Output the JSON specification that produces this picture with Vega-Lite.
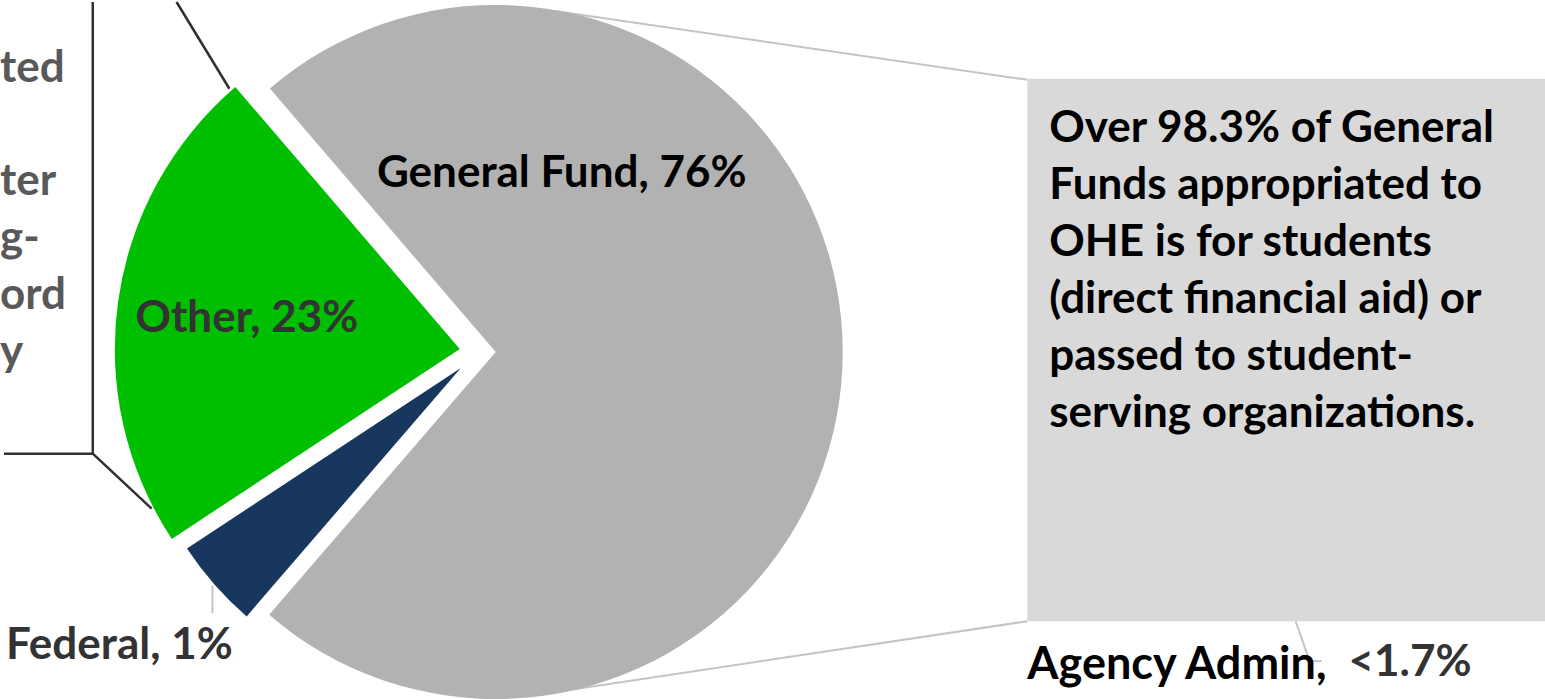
{
  "$schema": "https://vega.github.io/schema/vega-lite/v6.json",
  "width": 1545,
  "height": 699,
  "padding": 0,
  "autosize": {"type": "fit", "contains": "padding"},
  "background": "white",
  "config": {"view": {"stroke": null}, "text": {"font": "Lato", "fontWeight": "bold", "fontSize": 44}},
  "datasets": {
    "slices": [
      {"source": "General Fund", "share": 72.6, "rank": 1, "label": "General Fund, 76%"},
      {"source": "Federal", "share": 4.4, "rank": 2, "label": "Federal, 1%"},
      {"source": "Other", "share": 23.0, "rank": 3, "label": "Other, 23%"}
    ]
  },
  "layer": [
    {
      "data": {"values": [{}]},
      "mark": {"type": "rule", "color": "#c4c4c4", "strokeWidth": 2},
      "encoding": {
        "x": {"datum": 552, "type": "quantitative", "scale": {"domain": [0, 1545], "nice": false, "zero": false}, "axis": null},
        "y": {"datum": 9, "type": "quantitative", "scale": {"domain": [0, 699], "nice": false, "zero": false, "reverse": true}, "axis": null},
        "x2": {"datum": 1026},
        "y2": {"datum": 78}
      }
    },
    {
      "data": {"values": [{}]},
      "mark": {"type": "rule", "color": "#c4c4c4", "strokeWidth": 2},
      "encoding": {
        "x": {"datum": 560, "type": "quantitative", "scale": {"domain": [0, 1545], "nice": false, "zero": false}, "axis": null},
        "y": {"datum": 691, "type": "quantitative", "scale": {"domain": [0, 699], "nice": false, "zero": false, "reverse": true}, "axis": null},
        "x2": {"datum": 1026},
        "y2": {"datum": 621}
      }
    },
    {
      "data": {"values": [{}]},
      "mark": {"type": "rule", "color": "#303030", "strokeWidth": 2.5},
      "encoding": {
        "x": {"datum": 173, "type": "quantitative", "scale": {"domain": [0, 1545], "nice": false, "zero": false}, "axis": null},
        "y": {"datum": 0, "type": "quantitative", "scale": {"domain": [0, 699], "nice": false, "zero": false, "reverse": true}, "axis": null},
        "x2": {"datum": 226},
        "y2": {"datum": 87}
      }
    },
    {
      "data": {"values": [{}]},
      "mark": {"type": "rule", "color": "#303030", "strokeWidth": 2.5},
      "encoding": {
        "x": {"datum": 89, "type": "quantitative", "scale": {"domain": [0, 1545], "nice": false, "zero": false}, "axis": null},
        "y": {"datum": 453, "type": "quantitative", "scale": {"domain": [0, 699], "nice": false, "zero": false, "reverse": true}, "axis": null},
        "x2": {"datum": 148},
        "y2": {"datum": 508}
      }
    },
    {
      "data": {"values": [{}]},
      "mark": {"type": "rule", "color": "#303030", "strokeWidth": 2.5},
      "encoding": {
        "x": {"datum": 89, "type": "quantitative", "scale": {"domain": [0, 1545], "nice": false, "zero": false}, "axis": null},
        "y": {"datum": 0, "type": "quantitative", "scale": {"domain": [0, 699], "nice": false, "zero": false, "reverse": true}, "axis": null},
        "x2": {"datum": 89},
        "y2": {"datum": 454}
      }
    },
    {
      "data": {"values": [{}]},
      "mark": {"type": "rule", "color": "#303030", "strokeWidth": 2.5},
      "encoding": {
        "x": {"datum": 0, "type": "quantitative", "scale": {"domain": [0, 1545], "nice": false, "zero": false}, "axis": null},
        "y": {"datum": 453, "type": "quantitative", "scale": {"domain": [0, 699], "nice": false, "zero": false, "reverse": true}, "axis": null},
        "x2": {"datum": 89},
        "y2": {"datum": 453}
      }
    },
    {
      "data": {"values": [{}]},
      "mark": {"type": "text", "align": "left", "baseline": "alphabetic", "dx": -4, "color": "#595959"},
      "encoding": {
        "x": {"datum": 0, "type": "quantitative", "scale": {"domain": [0, 1545], "nice": false, "zero": false}, "axis": null},
        "y": {"datum": 80, "type": "quantitative", "scale": {"domain": [0, 699], "nice": false, "zero": false, "reverse": true}, "axis": null},
        "text": {"value": "ted"}
      }
    },
    {
      "data": {"values": [{}]},
      "mark": {"type": "text", "align": "left", "baseline": "alphabetic", "dx": -4, "lineHeight": 57, "color": "#595959"},
      "encoding": {
        "x": {"datum": 0, "type": "quantitative", "scale": {"domain": [0, 1545], "nice": false, "zero": false}, "axis": null},
        "y": {"datum": 194, "type": "quantitative", "scale": {"domain": [0, 699], "nice": false, "zero": false, "reverse": true}, "axis": null},
        "text": {"value": ["ter", "g-", "ord", "y"]}
      }
    },
    {
      "data": {"values": [{}]},
      "mark": {"type": "rect", "color": "#d9d9d9"},
      "encoding": {
        "x": {"datum": 1026, "type": "quantitative", "scale": {"domain": [0, 1545], "nice": false, "zero": false}, "axis": null},
        "y": {"datum": 77, "type": "quantitative", "scale": {"domain": [0, 699], "nice": false, "zero": false, "reverse": true}, "axis": null},
        "x2": {"datum": 1545},
        "y2": {"datum": 621}
      }
    },
    {
      "data": {"values": [{}]},
      "mark": {"type": "text", "align": "left", "baseline": "alphabetic", "lineHeight": 57, "color": "#000000"},
      "encoding": {
        "x": {"datum": 1048, "type": "quantitative", "scale": {"domain": [0, 1545], "nice": false, "zero": false}, "axis": null},
        "y": {"datum": 140, "type": "quantitative", "scale": {"domain": [0, 699], "nice": false, "zero": false, "reverse": true}, "axis": null},
        "text": {"value": ["Over 98.3% of General", "Funds appropriated to", "OHE is for students", "(direct financial aid) or", "passed to student-", "serving organizations."]}
      }
    },
    {
      "data": {"values": [{}]},
      "mark": {"type": "rule", "color": "#c4c4c4", "strokeWidth": 2},
      "encoding": {
        "x": {"datum": 1295, "type": "quantitative", "scale": {"domain": [0, 1545], "nice": false, "zero": false}, "axis": null},
        "y": {"datum": 621, "type": "quantitative", "scale": {"domain": [0, 699], "nice": false, "zero": false, "reverse": true}, "axis": null},
        "x2": {"datum": 1309},
        "y2": {"datum": 661}
      }
    },
    {
      "data": {"values": [{}]},
      "mark": {"type": "rule", "color": "#c4c4c4", "strokeWidth": 2},
      "encoding": {
        "x": {"datum": 1309, "type": "quantitative", "scale": {"domain": [0, 1545], "nice": false, "zero": false}, "axis": null},
        "y": {"datum": 661, "type": "quantitative", "scale": {"domain": [0, 699], "nice": false, "zero": false, "reverse": true}, "axis": null},
        "x2": {"datum": 1321},
        "y2": {"datum": 661}
      }
    },
    {
      "data": {"values": [{}]},
      "mark": {"type": "text", "align": "left", "baseline": "alphabetic", "color": "#000000", "fontSize": 45},
      "encoding": {
        "x": {"datum": 1026, "type": "quantitative", "scale": {"domain": [0, 1545], "nice": false, "zero": false}, "axis": null},
        "y": {"datum": 679, "type": "quantitative", "scale": {"domain": [0, 699], "nice": false, "zero": false, "reverse": true}, "axis": null},
        "text": {"value": "Agency Admin,"}
      }
    },
    {
      "data": {"values": [{}]},
      "mark": {"type": "text", "align": "left", "baseline": "alphabetic", "color": "#333333"},
      "encoding": {
        "x": {"datum": 1348, "type": "quantitative", "scale": {"domain": [0, 1545], "nice": false, "zero": false}, "axis": null},
        "y": {"datum": 676, "type": "quantitative", "scale": {"domain": [0, 699], "nice": false, "zero": false, "reverse": true}, "axis": null},
        "text": {"value": "<1.7%"}
      }
    },
    {
      "data": {"values": [{}]},
      "mark": {"type": "rule", "color": "#c4c4c4", "strokeWidth": 2},
      "encoding": {
        "x": {"datum": 209, "type": "quantitative", "scale": {"domain": [0, 1545], "nice": false, "zero": false}, "axis": null},
        "y": {"datum": 585, "type": "quantitative", "scale": {"domain": [0, 699], "nice": false, "zero": false, "reverse": true}, "axis": null},
        "x2": {"datum": 209},
        "y2": {"datum": 613}
      }
    },
    {
      "data": {"name": "slices"},
      "transform": [
        {"stack": "share", "groupby": [], "sort": [{"field": "rank", "order": "ascending"}], "as": ["t0", "t1"]},
        {"filter": "datum.source === 'General Fund'"}
      ],
      "mark": {"type": "arc", "radius": 347, "color": "#b2b2b2"},
      "encoding": {
        "theta": {"field": "t0", "type": "quantitative", "scale": {"domain": [0, 100], "range": [5.5746, 11.8578]}},
        "theta2": {"field": "t1"},
        "x": {"datum": 493, "type": "quantitative", "scale": {"domain": [0, 1545], "nice": false, "zero": false}, "axis": null},
        "y": {"datum": 351, "type": "quantitative", "scale": {"domain": [0, 699], "nice": false, "zero": false, "reverse": true}, "axis": null}
      }
    },
    {
      "data": {"name": "slices"},
      "transform": [
        {"stack": "share", "groupby": [], "sort": [{"field": "rank", "order": "ascending"}], "as": ["t0", "t1"]},
        {"filter": "datum.source === 'Federal'"}
      ],
      "mark": {"type": "arc", "radius": 328, "color": "#17375e"},
      "encoding": {
        "theta": {"field": "t0", "type": "quantitative", "scale": {"domain": [0, 100], "range": [5.5746, 11.8578]}},
        "theta2": {"field": "t1"},
        "x": {"datum": 458, "type": "quantitative", "scale": {"domain": [0, 1545], "nice": false, "zero": false}, "axis": null},
        "y": {"datum": 367, "type": "quantitative", "scale": {"domain": [0, 699], "nice": false, "zero": false, "reverse": true}, "axis": null}
      }
    },
    {
      "data": {"name": "slices"},
      "transform": [
        {"stack": "share", "groupby": [], "sort": [{"field": "rank", "order": "ascending"}], "as": ["t0", "t1"]},
        {"filter": "datum.source === 'Other'"}
      ],
      "mark": {"type": "arc", "radius": 345, "color": "#00bf00"},
      "encoding": {
        "theta": {"field": "t0", "type": "quantitative", "scale": {"domain": [0, 100], "range": [5.5746, 11.8578]}},
        "theta2": {"field": "t1"},
        "x": {"datum": 457, "type": "quantitative", "scale": {"domain": [0, 1545], "nice": false, "zero": false}, "axis": null},
        "y": {"datum": 348, "type": "quantitative", "scale": {"domain": [0, 699], "nice": false, "zero": false, "reverse": true}, "axis": null}
      }
    },
    {
      "data": {"name": "slices"},
      "mark": {"type": "text", "radius": 66, "dy": -178, "align": "center", "baseline": "middle", "color": "#000000"},
      "encoding": {
        "theta": {"field": "share", "type": "quantitative", "stack": true, "scale": {"domain": [0, 100], "range": [5.5746, 11.8578]}},
        "order": {"field": "rank"},
        "detail": {"field": "source"},
        "text": {"condition": {"test": "datum.source === 'General Fund'", "field": "label"}, "value": ""},
        "x": {"datum": 493, "type": "quantitative", "scale": {"domain": [0, 1545], "nice": false, "zero": false}, "axis": null},
        "y": {"datum": 351, "type": "quantitative", "scale": {"domain": [0, 699], "nice": false, "zero": false, "reverse": true}, "axis": null}
      }
    },
    {
      "data": {"name": "slices"},
      "mark": {"type": "text", "radius": 436, "dx": -14, "dy": -10, "align": "center", "baseline": "middle", "color": "#333333"},
      "encoding": {
        "theta": {"field": "share", "type": "quantitative", "stack": true, "scale": {"domain": [0, 100], "range": [5.5746, 11.8578]}},
        "order": {"field": "rank"},
        "detail": {"field": "source"},
        "text": {"condition": {"test": "datum.source === 'Federal'", "field": "label"}, "value": ""},
        "x": {"datum": 458, "type": "quantitative", "scale": {"domain": [0, 1545], "nice": false, "zero": false}, "axis": null},
        "y": {"datum": 367, "type": "quantitative", "scale": {"domain": [0, 699], "nice": false, "zero": false, "reverse": true}, "axis": null}
      }
    },
    {
      "data": {"name": "slices"},
      "mark": {"type": "text", "radius": 215, "align": "center", "baseline": "middle", "color": "#333333"},
      "encoding": {
        "theta": {"field": "share", "type": "quantitative", "stack": true, "scale": {"domain": [0, 100], "range": [5.5746, 11.8578]}},
        "order": {"field": "rank"},
        "detail": {"field": "source"},
        "text": {"condition": {"test": "datum.source === 'Other'", "field": "label"}, "value": ""},
        "x": {"datum": 457, "type": "quantitative", "scale": {"domain": [0, 1545], "nice": false, "zero": false}, "axis": null},
        "y": {"datum": 348, "type": "quantitative", "scale": {"domain": [0, 699], "nice": false, "zero": false, "reverse": true}, "axis": null}
      }
    }
  ]
}
